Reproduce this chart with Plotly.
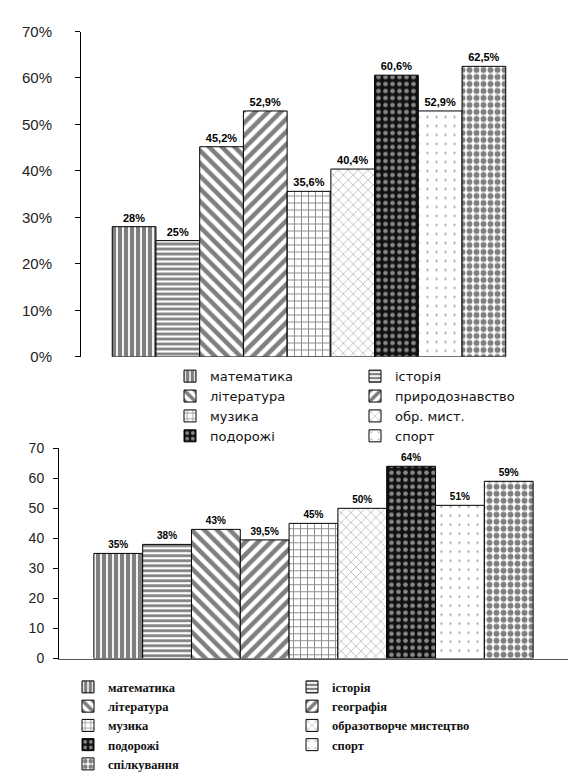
import plotly.graph_objects as go

W, H = 571, 783

# ---- data ----
top_names = ["математика", "історія", "література", "природознавство", "музика",
             "обр. мист.", "подорожі", "спорт", "спілкування"]
top_values = [28, 25, 45.2, 52.9, 35.6, 40.4, 60.6, 52.9, 62.5]
top_in_legend = [True, True, True, True, True, True, True, True, False]

bot_names = ["математика", "історія", "література", "географія", "музика",
             "образотворче мистецтво", "подорожі", "спорт", "спілкування"]
bot_values = [35, 38, 43, 39.5, 45, 50, 64, 51, 59]

top_ticks = [0, 10, 20, 30, 40, 50, 60, 70]
top_ticktext = ["0%", "10%", "20%", "30%", "40%", "50%", "60%", "70%"]
bot_ticks = [0, 10, 20, 30, 40, 50, 60, 70]
bot_ticktext = ["0", "10", "20", "30", "40", "50", "60", "70"]

# ---- styles (pattern per series index) ----
patterns = [
    dict(shape="|", fgcolor="#000", bgcolor="#fff", size=6, solidity=0.7),
    dict(shape="-", fgcolor="#000", bgcolor="#fff", size=5, solidity=0.55),
    dict(shape="\\", fgcolor="#000", bgcolor="#fff", size=9, solidity=0.5),
    dict(shape="/", fgcolor="#000", bgcolor="#fff", size=9, solidity=0.5),
    dict(shape="+", fgcolor="#111", bgcolor="#fff", size=7, solidity=0.25),
    dict(shape="x", fgcolor="#333", bgcolor="#fff", size=7, solidity=0.15),
    dict(shape=".", fgcolor="#fff", bgcolor="#111", size=7, solidity=0.35),
    dict(shape=".", fgcolor="#444", bgcolor="#fff", size=9, solidity=0.05),
    dict(shape=".", fgcolor="#000", bgcolor="#fff", size=7, solidity=0.55),
]


def px_x(p):
    return p / W


def px_y(p):
    return 1 - p / H


def fmt(v):
    return f"{v:g}".replace(".", ",") + "%"


fig = go.Figure()

# top chart
for i, (n, v) in enumerate(zip(top_names, top_values)):
    fig.add_trace(go.Bar(
        x=["A"], y=[v], name=n, xaxis="x", yaxis="y",
        offsetgroup=str(i),
        marker=dict(color="#fff", pattern=patterns[i], line=dict(color="#000", width=1)),
        text=[fmt(v)], textposition="outside", cliponaxis=False,
        textfont=dict(family="Liberation Sans", size=11, color="#000", weight="bold"),
        constraintext="none",
        showlegend=top_in_legend[i],
        legend="legend" if i % 2 == 0 else "legend2",
    ))

# bottom chart
for i, (n, v) in enumerate(zip(bot_names, bot_values)):
    fig.add_trace(go.Bar(
        x=["A"], y=[v], name=n, xaxis="x2", yaxis="y2",
        offsetgroup=str(i),
        marker=dict(color="#fff", pattern=patterns[i], line=dict(color="#000", width=1)),
        text=[fmt(v)], textposition="outside", cliponaxis=False,
        textfont=dict(family="Liberation Sans", size=10, color="#000", weight="bold"),
        constraintext="none",
        legend="legend3" if i % 2 == 0 else "legend4",
    ))

leg_top_font = dict(family="DejaVu Sans", size=13, color="#111")
leg_bot_font = dict(family="Liberation Serif", size=12.5, color="#111", weight="bold")

fig.update_layout(
    width=W, height=H,
    margin=dict(l=0, r=0, t=0, b=0),
    paper_bgcolor="#fff", plot_bgcolor="rgba(0,0,0,0)",
    barmode="group", bargap=0.137, bargroupgap=0,
    xaxis=dict(domain=[px_x(81), px_x(537)], visible=False, fixedrange=True),
    yaxis=dict(domain=[px_y(355.5), px_y(23)], range=[0, 70], showgrid=False,
               showline=True, linecolor="#000", linewidth=1,
               ticks="outside", ticklen=5, tickcolor="#000",
               tickvals=top_ticks, ticktext=top_ticktext, ticklabelstandoff=20,
               tickfont=dict(family="Liberation Sans", size=15, color="#222"),
               zeroline=False),
    xaxis2=dict(domain=[px_x(59), px_x(568)], showticklabels=False, showgrid=False,
                showline=True, linecolor="#555", linewidth=1, ticks="",
                anchor="y2"),
    yaxis2=dict(domain=[px_y(664), px_y(449)], range=[0, 70], showgrid=False,
                anchor="x2",
                showline=True, linecolor="#000", linewidth=1,
                ticks="outside", ticklen=5, tickcolor="#000",
                tickvals=bot_ticks, ticktext=bot_ticktext, ticklabelstandoff=6,
                tickfont=dict(family="Liberation Sans", size=14, color="#222"),
                zeroline=False),
    legend=dict(x=px_x(170), y=px_y(360), xanchor="left", yanchor="top",
                font=leg_top_font, bgcolor="rgba(0,0,0,0)", traceorder="normal",
                borderwidth=0),
    legend2=dict(x=px_x(355), y=px_y(360), xanchor="left", yanchor="top",
                 font=leg_top_font, bgcolor="rgba(0,0,0,0)", traceorder="normal",
                 borderwidth=0),
    legend3=dict(x=px_x(68), y=px_y(678), xanchor="left", yanchor="top",
                 font=leg_bot_font, bgcolor="rgba(0,0,0,0)", traceorder="normal",
                 borderwidth=0),
    legend4=dict(x=px_x(292), y=px_y(678), xanchor="left", yanchor="top",
                 font=leg_bot_font, bgcolor="rgba(0,0,0,0)", traceorder="normal",
                 borderwidth=0),
)

fig.write_html("out.html")
